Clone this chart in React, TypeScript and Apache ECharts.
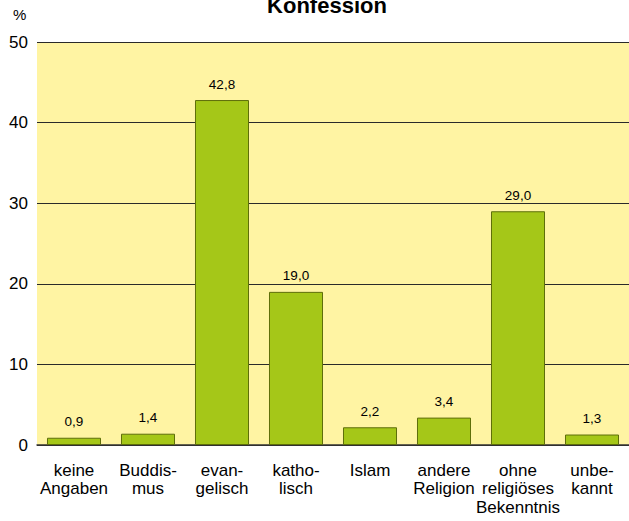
import React, { useEffect, useRef } from "react";
import * as echarts from "echarts";

const categories = [
  "keine\nAngaben",
  "Buddis-\nmus",
  "evan-\ngelisch",
  "katho-\nlisch",
  "Islam",
  "andere\nReligion",
  "ohne\nreligiöses\nBekenntnis",
  "unbe-\nkannt",
];
const values = [0.9, 1.4, 42.8, 19.0, 2.2, 3.4, 29.0, 1.3];
const yTicks = [0, 10, 20, 30, 40, 50];

export default function App() {
  const ref = useRef<HTMLDivElement>(null);
  useEffect(() => {
    document.body.style.margin = "0";
    const chart = echarts.init(ref.current!, null, { renderer: "svg" });
    chart.setOption({
      animation: false,
      backgroundColor: "#ffffff",
      title: {
        text: "Konfession",
        left: 327,
        top: -6,
        padding: 0,
        textAlign: "center",
        textStyle: { fontFamily: "Liberation Sans, Arial", fontSize: 22, fontWeight: "bold", color: "#000" },
      },
      graphic: [
        {
          type: "text",
          left: 13,
          top: 7,
          style: { text: "%", font: "15px 'Liberation Sans', Arial", fill: "#000" },
        },
      ],
      grid: { left: 37, right: 0, top: 42, bottom: 76, backgroundColor: "#FFF4A3", show: true, borderWidth: 0 },
      xAxis: {
        type: "category",
        data: categories,
        axisLine: { show: true, lineStyle: { color: "#333", width: 1.5 } },
        axisTick: { show: false },
        axisLabel: {
          interval: 0,
          margin: 16,
          fontFamily: "Liberation Sans, Arial",
          fontSize: 17,
          lineHeight: 18.5,
          color: "#000",
        },
      },
      yAxis: {
        type: "value",
        min: yTicks[0],
        max: yTicks[yTicks.length - 1],
        interval: 10,
        axisLine: { show: false },
        axisTick: { show: false },
        axisLabel: { margin: 9, fontFamily: "Liberation Sans, Arial", fontSize: 17, color: "#000" },
        splitLine: { show: true, lineStyle: { color: "#2a2a2a", width: 1.2 } },
      },
      series: [
        {
          type: "bar",
          data: values,
          barWidth: "73%",
          itemStyle: { color: "#A5C718", borderColor: "#5E6E0A", borderWidth: 1 },
          label: {
            show: true,
            position: "top",
            distance: 9,
            fontFamily: "Liberation Sans, Arial",
            fontSize: 13.5,
            color: "#000",
            formatter: (p: any) => p.value.toFixed(1).replace(".", ","),
          },
        },
      ],
    });
    return () => chart.dispose();
  }, []);
  return <div ref={ref} style={{ width: 629, height: 521 }} />;
}
